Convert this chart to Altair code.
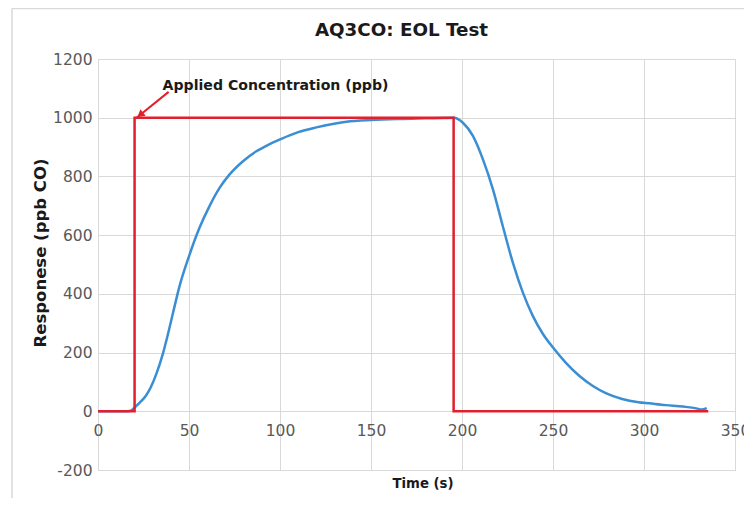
import altair as alt
import pandas as pd

# ---- data ----
time_resp = [0, 5, 10, 15, 18, 20, 22, 24, 26.4, 29, 31.9, 35.6, 38, 41.1, 44.7, 50,
             55.7, 61.2, 66.7, 72.2, 79.5, 86.8, 93, 100, 110, 120, 136.5, 150, 167.7,
             180, 190, 195.4, 200.5, 206, 211.5, 217, 222.4, 227.9, 233.4, 238.9, 244.3,
             250, 257.1, 264.4, 271.7, 279, 288, 297, 303, 312, 321.5, 328.8, 331.6, 334.5]
response = [0, 0, 0, 0, 2, 12, 24, 36, 54, 82, 125, 195, 252, 332, 424, 528,
            624, 698, 760, 806, 851, 885, 906, 926, 951, 967, 986, 992, 996,
            998, 999, 1000, 983, 938, 858, 756, 631, 507, 405, 325, 265,
            217, 165, 121, 87, 62, 42, 31, 27, 21, 16, 10, 6, 11]

time_applied = [0, 20.1, 20.1, 195.4, 195.4, 335.3]
applied = [0, 0, 1000, 1000, 0, 0]

x_ticks = [0, 50, 100, 150, 200, 250, 300, 350]
y_ticks = [-200, 0, 200, 400, 600, 800, 1000, 1200]

chart_title = ["AQ3CO: EOL Test"]
annot_label = ["Applied Concentration (ppb)"]
annot_pos = [35.5, 1095]
arrow_from = [38.8, 1088]
arrow_to = [21.2, 1000]
arrow_head = [23.2, 1010]

W, H = 637, 411
GRID = "#d9d9d9"
LABEL = "#595959"
DARK = "#1a1a1a"
RED = "#e31e2d"
BLUE = "#3a8ed3"
TFONT = "DejaVu Sans"
LFONT = "DejaVu Sans"

resp_df = pd.DataFrame({"t": time_resp, "v": response, "i": range(len(response))})
app_df = pd.DataFrame({"t": time_applied, "v": applied, "i": range(len(applied))})
annot_df = pd.DataFrame({"t": [annot_pos[0]], "v": [annot_pos[1]], "label": annot_label})
arrow_df = pd.DataFrame({"t": [arrow_from[0]], "v": [arrow_from[1]],
                         "t2": [arrow_to[0]], "v2": [arrow_to[1]]})
head_df = pd.DataFrame({"t": [arrow_head[0]], "v": [arrow_head[1]]})
title_df = pd.DataFrame({"label": chart_title})

xscale = alt.Scale(domain=[0, 350], nice=False, zero=False)
yscale = alt.Scale(domain=[-200, 1200], nice=False, zero=False)

grid_x_axis = alt.Axis(values=x_ticks, grid=True, gridColor=GRID, labels=False, ticks=False,
                       domain=False, orient="bottom", title="Time (s)", titleFont=TFONT,
                       titleFontSize=13.3, titleFontWeight="bold", titleColor=DARK,
                       titleY=13, titleX=W / 2 + 6, titleBaseline="middle")
label_x_axis = alt.Axis(values=x_ticks, grid=False, ticks=False, domain=False, orient="bottom",
                        labelFont=LFONT, labelFontSize=15.5, labelColor=LABEL, labelPadding=12,
                        labelFlush=False, labelExpr="'' + datum.value",
                        offset=-H * 200 / 1400, title=None)
y_axis = alt.Axis(values=y_ticks, grid=True, gridColor=GRID, ticks=False, domain=False,
                  orient="left", labelExpr="'' + datum.value",
                  labelFont=LFONT, labelFontSize=15.5, labelColor=LABEL, labelPadding=6,
                  title="Responese (ppb CO)", titleFont=TFONT, titleFontSize=16.5,
                  titleFontWeight="bold", titleColor=DARK, titleX=-58, titleY=193.5,
                  titleAngle=-90, titleAlign="center", titleBaseline="middle")

blue = alt.Chart(resp_df).mark_line(color=BLUE, strokeWidth=2.5, interpolate="monotone").encode(
    x=alt.X("t:Q", scale=xscale, axis=grid_x_axis),
    y=alt.Y("v:Q", scale=yscale, axis=y_axis),
    order="i:Q",
)
red = alt.Chart(app_df).mark_line(color=RED, strokeWidth=2.5).encode(
    x=alt.X("t:Q", scale=xscale, axis=label_x_axis),
    y=alt.Y("v:Q", scale=yscale, axis=None),
    order="i:Q",
)
text = alt.Chart(annot_df).mark_text(font=TFONT, fontSize=14.1, fontWeight="bold", color=DARK,
                                     align="left", baseline="alphabetic").encode(
    x=alt.X("t:Q", scale=xscale, axis=None),
    y=alt.Y("v:Q", scale=yscale, axis=None),
    text="label:N",
)
arrow = alt.Chart(arrow_df).mark_rule(color=RED, strokeWidth=2).encode(
    x=alt.X("t:Q", scale=xscale, axis=None), x2="t2:Q",
    y=alt.Y("v:Q", scale=yscale, axis=None), y2="v2:Q",
)
head = alt.Chart(head_df).mark_point(shape="triangle-up", filled=True, color=RED, opacity=1,
                                     size=70, angle=231).encode(
    x=alt.X("t:Q", scale=xscale, axis=None),
    y=alt.Y("v:Q", scale=yscale, axis=None),
)
title = alt.Chart(title_df).mark_text(font=TFONT, fontSize=18.3, fontWeight="bold", color=DARK,
                                      align="center", baseline="alphabetic").encode(
    x=alt.value(W / 2 - 15), y=alt.value(-23.5), text="label:N")
frame_left = alt.Chart(head_df).mark_rule(color=GRID, strokeWidth=1.5).encode(
    x=alt.value(-86), y=alt.value(-50.5), y2=alt.value(H + 40))
frame_top = alt.Chart(head_df).mark_rule(color=GRID, strokeWidth=1.5).encode(
    x=alt.value(-86), x2=alt.value(W + 20), y=alt.value(-50.5))

chart = alt.layer(frame_left, frame_top, blue, red, arrow, head, text, title).resolve_axis(
    x="independent", y="independent"
).properties(
    width=W, height=H,
    autosize=alt.AutoSizeParams(type="none"),
    padding={"left": 90, "top": 51, "right": 9, "bottom": 28},
).configure_view(stroke=None).configure(background="white")

chart.save("out.html", embed_options={"renderer": "svg", "actions": False})
